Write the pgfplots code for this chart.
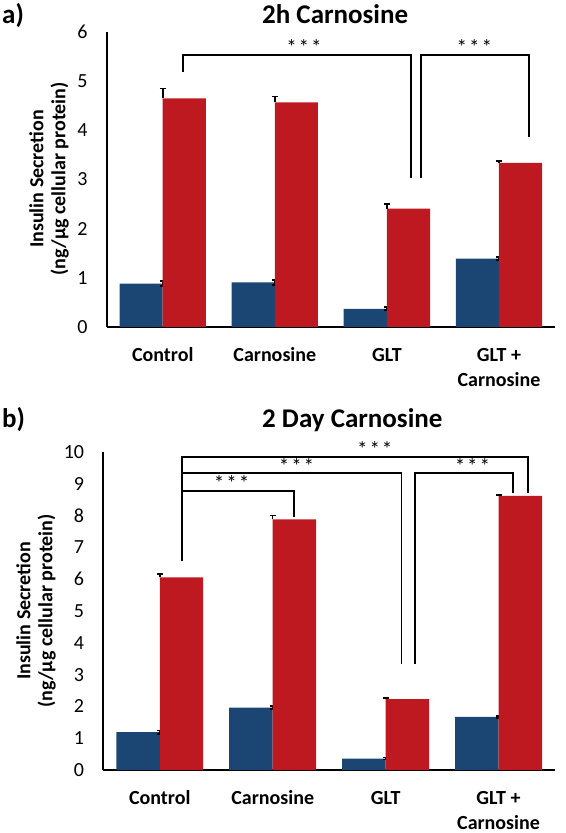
\documentclass[border=0pt]{standalone}
\usepackage{fontspec}
\setmainfont{Carlito}
\usepackage{pgfplots}
\usepackage{pgfplotstable}
\pgfplotsset{compat=1.18}
\definecolor{cblue}{RGB}{27,69,115}
\definecolor{cred}{RGB}{190,24,32}

\pgfplotstableread{
x b be r re
1 0.88 0.05 4.65 0.20
2 0.91 0.05 4.57 0.12
3 0.37 0.03 2.41 0.09
4 1.39 0.03 3.34 0.04
}\dataA
\pgfplotstableread{
x b be r re
1 1.19 0.05 6.06 0.10
2 1.96 0.05 7.88 0.12
3 0.36 0.03 2.23 0.04
4 1.67 0.03 8.62 0.03
}\dataB

\newcommand\fTick{\fontsize{20bp}{24bp}\selectfont}
\newcommand\fCat{\fontsize{20bp}{25bp}\selectfont\bfseries}
\newcommand\fTitle{\fontsize{27bp}{30bp}\selectfont\bfseries}
\newcommand\fStar{\fontsize{21bp}{22bp}\selectfont}
\newcommand\stars{*\kern2bp*\kern2bp*}

\tikzset{brk/.style={line width=1.8bp, black}}

\pgfplotsset{
  myax/.style={
    scale only axis, anchor=south west,
    xmin=0.5, xmax=4.5, ymin=0,
    axis x line*=bottom, axis y line*=left,
    axis line style={line width=1.8bp, black, -},
    xtick={1,2,3,4},
    xticklabels={\strut Control,\strut Carnosine,\strut GLT,{\strut GLT +\\Carnosine}},
    xticklabel style={font=\fCat, align=center, anchor=north, inner sep=0pt, yshift=-16.5bp},
    yticklabel style={font=\fTick, anchor=east, inner sep=0pt, xshift=-19bp},
    ytick distance=1,
    major tick length=0pt,
    tick style={draw=none},
    /pgf/number format/assume math mode=true,
    clip=false,
  },
  bluebar/.style={ybar, bar width=0.385, bar shift=-0.1925, fill=cblue, draw=none,
    error bars/.cd, y dir=both, y explicit,
    error bar style={line width=1.6bp, black},
    error mark options={rotate=90, line width=1.8bp, black, mark size=3bp}},
  redbar/.style={ybar, bar width=0.385, bar shift=0.1925, fill=cred, draw=none,
    error bars/.cd, y dir=plus, y explicit,
    error bar style={line width=1.6bp, black},
    error mark options={rotate=90, line width=1.8bp, black, mark size=3bp}},
}

\begin{document}
\begin{tikzpicture}
\useasboundingbox (0bp,0bp) rectangle (566bp,833bp);

% ---------- panel a ----------
\node[anchor=base west, font=\fTitle, inner sep=0pt] at (2bp,809bp) {a)};
\node[anchor=base west, font=\fTitle, inner sep=0pt] at (262bp,809bp) {2h Carnosine};
\node[rotate=90, align=center, font=\fontsize{20bp}{22bp}\selectfont\bfseries] at (49bp,654bp)
  {Insulin Secretion\\(ng/µg cellular protein)};
\begin{axis}[myax, at={(106.7bp,506bp)}, width=448.3bp, height=295bp, ymax=6]
\addplot[bluebar] table[x=x, y=b, y error=be] {\dataA};
\addplot[redbar] table[x=x, y=r, y error=re] {\dataA};
\draw[brk] (axis cs:1.18,5.19) |- (axis cs:3.214,5.54) -- (axis cs:3.214,3.04);
\draw[brk] (axis cs:3.304,3.04) |- (axis cs:4.268,5.54) -- (axis cs:4.268,3.86);
\node[anchor=base, font=\fStar, inner sep=0pt] at (axis cs:2.26,5.545) {\stars};
\node[anchor=base, font=\fStar, inner sep=0pt] at (axis cs:3.78,5.545) {\stars};
\end{axis}

% ---------- panel b ----------
\node[anchor=base west, font=\fTitle, inner sep=0pt] at (2bp,405bp) {b)};
\node[anchor=base west, font=\fTitle, inner sep=0pt] at (262bp,405bp) {2 Day Carnosine};
\node[rotate=90, align=center, font=\fontsize{20bp}{22bp}\selectfont\bfseries] at (36bp,222bp)
  {Insulin Secretion\\(ng/µg cellular protein)};
\begin{axis}[myax, at={(103.3bp,63bp)}, width=451.7bp, height=318bp, ymax=10]
\addplot[bluebar] table[x=x, y=b, y error=be] {\dataB};
\addplot[redbar] table[x=x, y=r, y error=re] {\dataB};
\draw[brk] (axis cs:1.194,6.58) -- (axis cs:1.194,9.85) -| (axis cs:4.261,8.72);
\draw[brk] (axis cs:1.194,9.33) -| (axis cs:3.141,3.32);
\draw[brk] (axis cs:1.194,8.77) -| (axis cs:2.190,7.95);
\draw[brk] (axis cs:3.258,3.32) |- (axis cs:4.128,9.33) -- (axis cs:4.128,8.72);
\node[anchor=base, font=\fStar, inner sep=0pt] at (axis cs:2.904,9.855) {\stars};
\node[anchor=base, font=\fStar, inner sep=0pt] at (axis cs:2.211,9.335) {\stars};
\node[anchor=base, font=\fStar, inner sep=0pt] at (axis cs:1.636,8.775) {\stars};
\node[anchor=base, font=\fStar, inner sep=0pt] at (axis cs:3.769,9.335) {\stars};
\end{axis}
\end{tikzpicture}
\end{document}
